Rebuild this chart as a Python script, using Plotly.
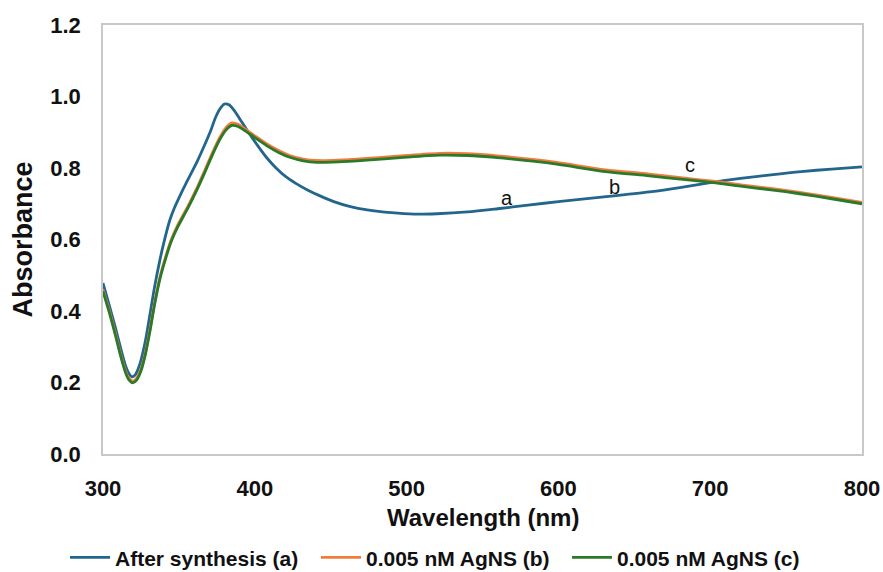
import plotly.graph_objects as go

wl_a = [300, 304, 308, 312, 315, 317, 319, 321, 323, 325, 328, 331, 334, 337.5, 340, 344, 347, 351, 356, 362, 367, 371, 374, 377, 380, 383, 386, 390, 395, 402, 408, 414, 420, 427, 435, 443, 452, 463, 474, 490, 505, 520, 540, 560, 580, 600, 630, 660, 680, 700, 720, 740, 760, 780, 800]
abs_a = [0.478, 0.418, 0.356, 0.290, 0.245, 0.226, 0.216, 0.220, 0.236, 0.262, 0.318, 0.392, 0.468, 0.543, 0.590, 0.654, 0.688, 0.725, 0.768, 0.818, 0.865, 0.905, 0.940, 0.965, 0.979, 0.977, 0.963, 0.938, 0.905, 0.862, 0.828, 0.800, 0.777, 0.757, 0.738, 0.722, 0.706, 0.692, 0.683, 0.675, 0.671, 0.672, 0.677, 0.686, 0.696, 0.706, 0.719, 0.733, 0.745, 0.759, 0.771, 0.781, 0.790, 0.797, 0.803]

wl_b = [300, 304, 308, 312, 315, 317, 319.5, 322, 325, 328, 331, 334, 337.5, 341.5, 345, 349, 353, 357, 362, 367, 372, 377, 381, 385, 389, 394, 400, 408, 416, 423, 432, 441, 455, 474, 496, 522, 540, 560, 583, 600, 631, 660, 682, 702, 720, 740, 759, 780, 800]
abs_b = [0.460, 0.403, 0.340, 0.273, 0.231, 0.213, 0.204, 0.211, 0.237, 0.285, 0.350, 0.423, 0.495, 0.555, 0.600, 0.638, 0.670, 0.702, 0.745, 0.793, 0.842, 0.886, 0.913, 0.926, 0.922, 0.908, 0.890, 0.867, 0.848, 0.835, 0.825, 0.821, 0.822, 0.827, 0.834, 0.841, 0.840, 0.834, 0.824, 0.815, 0.795, 0.783, 0.772, 0.763, 0.753, 0.743, 0.732, 0.718, 0.704]

wl_c = [300, 304, 308, 312, 315, 317, 319.5, 322, 325, 328, 331, 334, 337.5, 341.5, 345, 349, 353, 357, 362, 367, 372, 377, 381, 385, 389, 394, 400, 408, 416, 423, 432, 441, 455, 474, 496, 522, 540, 560, 583, 600, 631, 660, 682, 702, 720, 740, 759, 780, 800]
abs_c = [0.455, 0.398, 0.335, 0.268, 0.226, 0.208, 0.199, 0.206, 0.232, 0.280, 0.345, 0.418, 0.490, 0.550, 0.595, 0.633, 0.665, 0.697, 0.740, 0.787, 0.836, 0.880, 0.906, 0.919, 0.916, 0.903, 0.885, 0.862, 0.843, 0.830, 0.820, 0.816, 0.817, 0.822, 0.829, 0.836, 0.835, 0.829, 0.819, 0.810, 0.790, 0.778, 0.768, 0.759, 0.749, 0.739, 0.728, 0.714, 0.700]

names = ["After synthesis (a)", "0.005 nM AgNS (b)", "0.005 nM AgNS (c)"]
colors = ["#22668d", "#f07d3c", "#2a7a2a"]

fig = go.Figure()
for x, y, n, c in zip([wl_a, wl_b, wl_c], [abs_a, abs_b, abs_c], names, colors):
    fig.add_trace(go.Scatter(x=x, y=y, name=n, mode="lines",
                             line=dict(color=c, width=2.8, shape="spline", smoothing=0.8)))

labels = ["a", "b", "c"]
label_x = [566, 637, 687]
label_y = [0.715, 0.748, 0.808]
for t, lx, ly in zip(labels, label_x, label_y):
    fig.add_annotation(x=lx, y=ly, text=t, showarrow=False,
                       font=dict(family="Liberation Sans", size=20, color="#111"))

# x-axis title placed as paper text below tick labels
fig.add_annotation(x=0.5, y=-0.149, xref="paper", yref="paper", yanchor="middle",
                   text="Wavelength (nm)", showarrow=False,
                   font=dict(family="Liberation Sans", size=24, color="#111", weight="bold"))

fig.update_layout(
    width=883, height=572,
    margin=dict(l=103, r=21, t=25, b=118, autoexpand=False),
    plot_bgcolor="white", paper_bgcolor="white",
    showlegend=True,
    legend=dict(orientation="h", x=0.5, xanchor="center", xref="container",
                y=0.025, yanchor="middle", yref="container",
                font=dict(family="Liberation Sans", size=21, color="#111", weight="bold"),
                itemwidth=40, entrywidth=196, traceorder="normal", tracegroupgap=0),
)
fig.update_xaxes(range=[300, 800], tickvals=[300, 400, 500, 600, 700, 800],
                 showgrid=False, zeroline=False, showline=True, mirror=True,
                 linecolor="#c8c8c8", linewidth=1.5, ticks="", ticklabelstandoff=14,
                 tickfont=dict(family="Liberation Sans", size=22, color="#111", weight="bold"))
fig.update_yaxes(range=[0, 1.2], tickvals=[0, 0.2, 0.4, 0.6, 0.8, 1.0, 1.2], tickformat=".1f",
                 showgrid=False, zeroline=False, showline=True, mirror=True,
                 linecolor="#c8c8c8", linewidth=1.5, ticks="", ticklabelstandoff=16,
                 tickfont=dict(family="Liberation Sans", size=22, color="#111", weight="bold"),
                 title=dict(text="Absorbance", standoff=10,
                            font=dict(family="Liberation Sans", size=27, color="#111", weight="bold")))

fig.write_html("out.html")
